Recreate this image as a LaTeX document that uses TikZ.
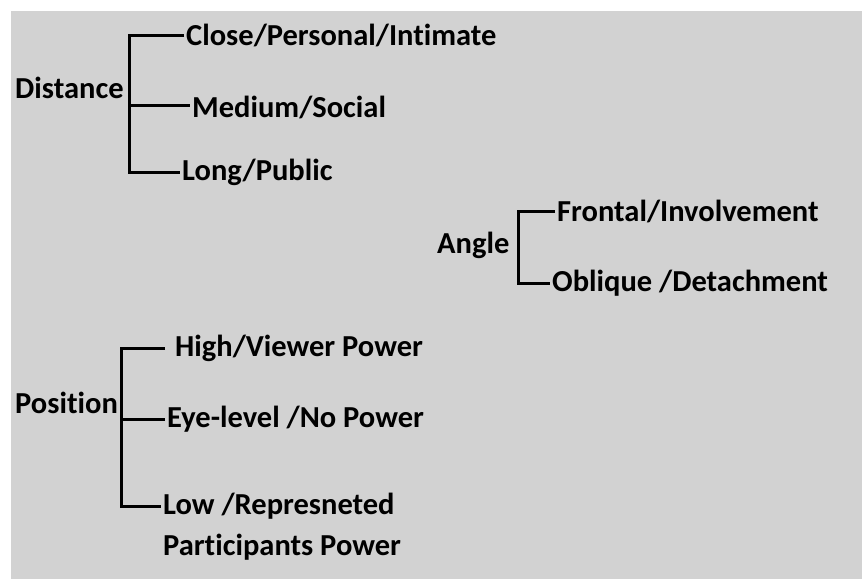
\documentclass[tikz,border=0pt]{standalone}
\usepackage{fontspec}
\setmainfont[Ligatures={NoCommon}]{Carlito}
\usepackage{tikz}
\usetikzlibrary{positioning,calc}
\definecolor{panelgray}{RGB}{210,210,210}
\tikzstyle{branch} = [line width=3pt, draw=black]
\tikzstyle{term} = [anchor=west, inner xsep=2pt, inner ysep=0pt, font=\fontsize{30.5}{41}\selectfont\bfseries, align=left]
\tikzstyle{head} = [term]

\begin{document}
\begin{tikzpicture}[x=1pt, y=-1pt]
        \useasboundingbox (0,0) rectangle (862,579);
        \fill[panelgray] (11,11) rectangle (862,579);
        % Distance ---------------------------------------------------------------------------------
        \node[head](distance) at (13,88){Distance};
        \node[term](dist_close) at (184,35){Close/Personal/Intimate};
        \node[term](dist_medium) at (190,107){Medium/Social};
        \node[term](dist_long) at (180,172){Long/Public};
        \coordinate (dist_spine) at (129,105);
        \draw[branch] (dist_close.west) -| (dist_spine) |- (dist_long.west);
        \draw[branch] (dist_spine) -- (dist_spine -| dist_medium.west);
        % Angle ------------------------------------------------------------------------------------
        \node[head](angle) at (435,245){Angle};
        \node[term](angle_frontal) at (555,211){Frontal/Involvement};
        \node[term](angle_oblique) at (550,283){Oblique /Detachment};
        \coordinate (angle_spine) at (518,245);
        \draw[branch] (angle_frontal.west) -| (angle_spine) |- (angle_oblique.west);
        % Position ---------------------------------------------------------------------------------
        \node[head](position) at (13,403){Position};
        \node[term](pos_high) at (173,348){High/Viewer Power};
        \node[term](pos_eye) at (165,419){Eye-level /No Power};
        \node[term](pos_low) at (161,527){Low /Represneted\\Participants Power};
        \coordinate (pos_spine) at (121,419);
        \draw[branch] ([xshift=-8pt]pos_high.west) -| (pos_spine) |- ([yshift=20.5pt]pos_low.west);
        \draw[branch] (pos_spine) -- (pos_eye.west);
    \end{tikzpicture}
\end{document}
